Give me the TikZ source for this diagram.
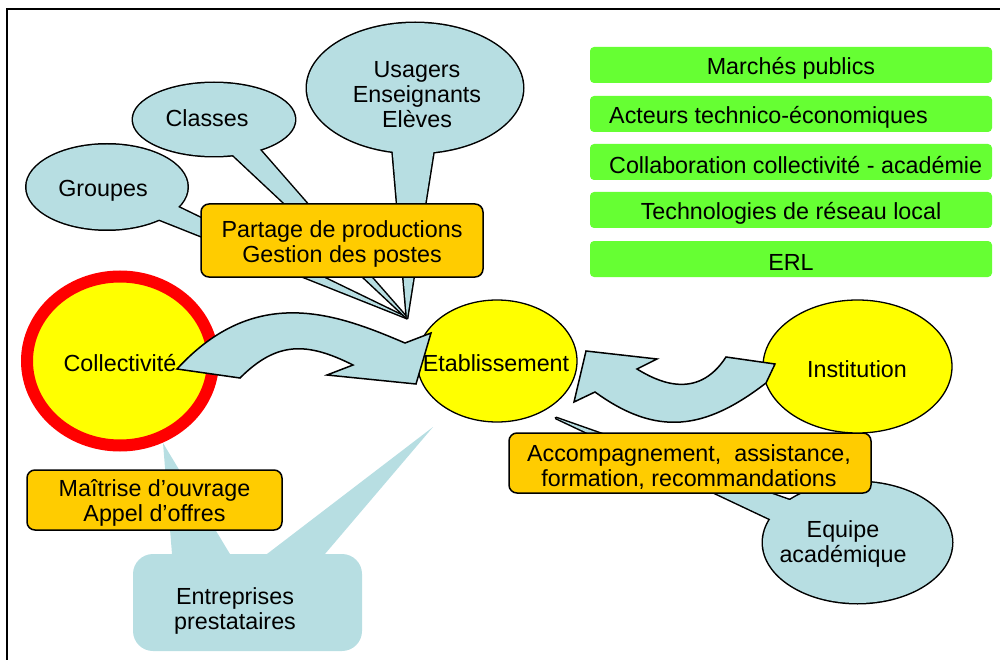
\documentclass[tikz,border=0pt]{standalone}
\usepackage{fontspec}
\setmainfont{Liberation Sans}
\usetikzlibrary{shapes.geometric}
\definecolor{lblue}{RGB}{183,222,226}
\definecolor{yel}{RGB}{255,255,0}
\definecolor{orng}{RGB}{255,204,0}
\definecolor{grn}{RGB}{102,255,51}
\tikzset{
  orangebox/.style={draw, fill=orng, rounded corners=8pt, line width=1.5pt, align=center, inner sep=0pt},
  greenbox/.style={fill=grn, rounded corners=4pt, minimum width=402pt, minimum height=36pt, inner sep=0pt},
  yellowell/.style={ellipse, draw, fill=yel, inner sep=0pt, line width=1.3pt},
  bubble/.style={ellipse, fill=lblue, inner sep=0pt},
  bubbleline/.style={draw, line width=3pt, line join=round},
  txt/.style={align=center, inner sep=0pt},
  blockarrow/.style={fill=lblue, draw, line width=1.5pt, line join=miter}
}
\begin{document}
\begin{tikzpicture}[x=1pt, y=-1pt, font=\fontsize{23.3pt}{25pt}\selectfont]
\useasboundingbox (0,0) rectangle (1000,660);
% frame
\draw[line width=1.7pt] (7,660) -- (7,9) -- (1000,9);

% green boxes
\node[greenbox] (g1) at (791,65) {};
\node[txt] (t1) at (791,68) {Marchés publics};
\node[greenbox] (g2) at (791,114) {};
\node[txt, anchor=west] (t2) at (609,117) {Acteurs technico-économiques};
\node[greenbox] (g3) at (791,162) {};
\node[txt, anchor=west] (t3) at (609,165) {Collaboration collectivité - académie};
\node[greenbox] (g4) at (791,210) {};
\node[txt] (t4) at (791,213) {Technologies de réseau local};
\node[greenbox] (g5) at (791,259) {};
\node[txt] (t5) at (791,262) {ERL};

% Entreprises callout (no outline)
\node[fill=lblue, rounded corners=20pt, minimum width=229pt, minimum height=97pt, inner sep=0pt] (ent) at (247.5,602.5) {};
\coordinate (entapA) at (163,443);
\coordinate (entapB) at (433,427);
\fill[lblue] (entapA) -- (172.9,565) -- (236.6,565) -- cycle;
\fill[lblue] (entapB) -- (252.6,565) -- (315.6,565) -- cycle;
\node[txt] (entt) at (235,611) {Entreprises\\prestataires};

% Groupes callout
\coordinate (apex) at (407,318);
\draw[bubbleline] (107,187) ellipse [x radius=80.5pt, y radius=42.5pt];
\draw[bubbleline] (168.8,202.6) -- (apex) -- (148,215) -- cycle;
\node[bubble, minimum width=161pt, minimum height=85pt] (grp) at (107,187) {};
\fill[lblue] (168.8,202.6) -- (apex) -- (148,215) -- cycle;
\node[txt] (grpt) at (103,191) {Groupes};

% Classes callout
\draw[bubbleline] (214,119.5) ellipse [x radius=81pt, y radius=36.5pt];
\draw[bubbleline] (222.6,145.2) -- (apex) -- (251.2,139.9) -- cycle;
\node[bubble, minimum width=162pt, minimum height=73pt] (cls) at (214,119.5) {};
\fill[lblue] (222.6,145.2) -- (apex) -- (251.2,139.9) -- cycle;
\node[txt] (clst) at (207,118) {Classes};

% Usagers callout
\draw[bubbleline] (415,88) ellipse [x radius=108pt, y radius=65pt];
\draw[bubbleline] (392.2,145.2) -- (apex) -- (434.6,144.2) -- cycle;
\node[bubble, minimum width=216pt, minimum height=130pt] (usa) at (415,88) {};
\fill[lblue] (392.2,145.2) -- (apex) -- (434.6,144.2) -- cycle;
\node[txt] (usat) at (417,95) {Usagers\\Enseignants\\Elèves};

% Partage box
\node[orangebox, minimum width=282pt, minimum height=73pt] (part) at (342,240.5) {};
\node[txt] (partt) at (342,243.5) {Partage de productions\\Gestion des postes};

% Equipe callout
\coordinate (eqap) at (556,418);
\draw[bubbleline] (857.5,542.5) ellipse [x radius=94.5pt, y radius=60.5pt];
\draw[bubbleline] (800.7,504.1) -- (eqap) -- (780.7,524) -- cycle;
\node[bubble, minimum width=189pt, minimum height=121pt] (eq) at (857.5,542.5) {};
\fill[lblue] (800.7,504.1) -- (eqap) -- (780.7,524) -- cycle;
\node[txt] (eqt) at (843,544) {Equipe\\académique};

% Accompagnement box
\node[orangebox, minimum width=362pt, minimum height=60pt] (acc) at (690,463) {};
\node[txt] (acct) at (689,467) {Accompagnement,\ \ assistance,\\formation, recommandations};

% Maitrise box
\node[orangebox, minimum width=255pt, minimum height=60pt] (mai) at (154.5,500) {};
\node[txt] (mait) at (154.5,503) {Maîtrise d’ouvrage\\Appel d’offres};

% main ellipses
\node[ellipse, draw=red, fill=yel, line width=12pt, inner sep=0pt, minimum width=186pt, minimum height=169pt] (col) at (120,361) {};
\node[yellowell, minimum width=160pt, minimum height=122pt] (eta) at (497,361) {};
\node[yellowell, minimum width=189pt, minimum height=133pt] (ins) at (857.5,366.5) {};

% block arrows
\filldraw[blockarrow] (177,369) .. controls (256,283) and (337,314) .. (405,343) -- (431,333) -- (416,384) -- (327,375) -- (353,365) .. controls (307,342) and (277,341) .. (240,378) -- cycle;
\filldraw[blockarrow] (775,364) -- (766,383) .. controls (705,430) and (657,437) .. (595,392) -- (574,402) -- (586,351) -- (657,359) -- (637,369) .. controls (655,380) and (696.5,402.5) .. (726,357) -- cycle;

% labels of main ellipses
\node[txt] (colt) at (120,363) {Collectivité};
\node[txt] (etat) at (496,363) {Etablissement};
\node[txt] (inst) at (857,369) {Institution};
\end{tikzpicture}
\end{document}
